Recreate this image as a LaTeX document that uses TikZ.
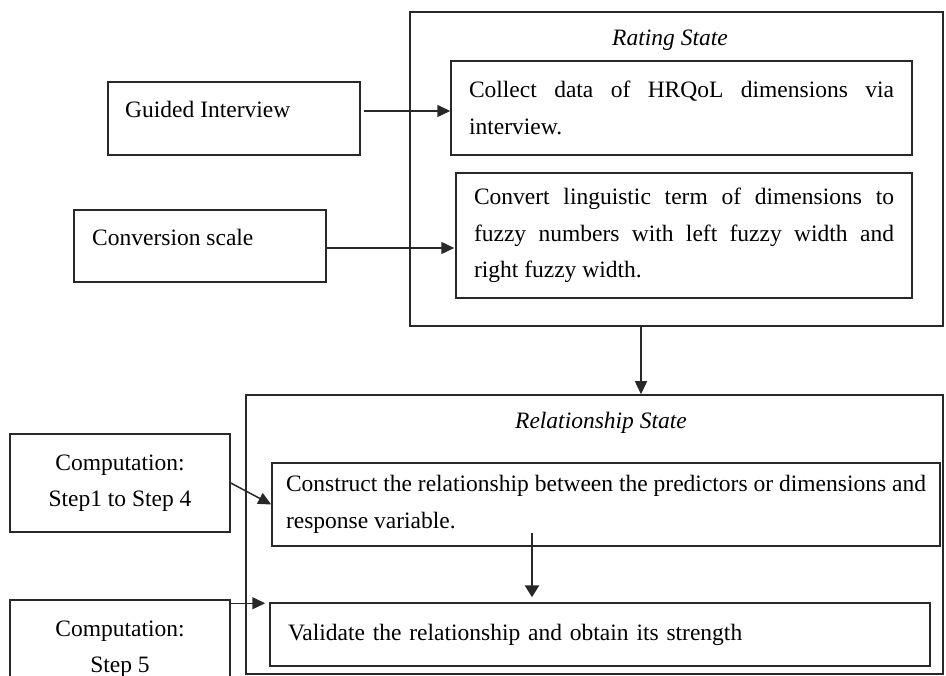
\documentclass[tikz,border=0pt]{standalone}
\usepackage{fontspec}
\setmainfont{Liberation Serif}
\usetikzlibrary{arrows.meta,calc}
\definecolor{linec}{RGB}{40,40,40}
\begin{document}
\begin{tikzpicture}[x=1pt,y=-1pt,
  box/.style={draw=linec, line width=1.5pt, inner sep=0pt},
  txt/.style={font=\fontsize{23.5}{36.5}\selectfont, inner sep=0pt},
  ttl/.style={font=\fontsize{23.5}{36.5}\selectfont\itshape, inner sep=0pt},
  arr/.style={draw=linec, line width=1.5pt, -{Triangle[length=13pt,width=12pt]}},
]
\clip (0,0) rectangle (946,676);
\fill[white] (0,0) rectangle (946,676);

% Rating state
\node[box, minimum width=533pt, minimum height=314pt] (rating) at (676.5,169) {};
\node[ttl] (ratingT) at (670,40) {Rating State};
\node[box, txt, minimum width=461pt, minimum height=94pt, text width=425pt, align=justify] (collect) at (681.5,108)
  {Collect data of HRQoL dimensions via\linebreak interview.};
\node[box, txt, minimum width=456pt, minimum height=125pt, text width=420pt, align=justify] (convert) at (684,235.5)
  {Convert linguistic term of dimensions to\linebreak fuzzy numbers with left fuzzy width and\linebreak right fuzzy width.};

% Inputs
\node[box, minimum width=252pt, minimum height=73pt] (guided) at (234,118.5) {};
\node[txt, anchor=west] (guidedT) at (125,109) {Guided Interview};
\node[box, minimum width=252pt, minimum height=72pt] (cscale) at (200,246) {};
\node[txt, anchor=west] (cscaleT) at (92,237) {Conversion scale};

\coordinate (a1) at ([yshift=-3pt]collect.west);
\draw[arr, shorten <=3pt] (guided.east |- a1) -- (a1);
\coordinate (a2) at ([yshift=-2pt]cscale.east);
\draw[arr, shorten >=1pt] (a2) -- (a2 -| convert.west);

% Relationship state
\node[box, minimum width=697pt, minimum height=279pt] (rel) at (594.5,534.5) {};
\node[ttl] (relT) at (601,423) {Relationship State};
\node[box, txt, minimum width=668pt, minimum height=83pt, text width=640pt, align=justify] (construct) at (606,504.5)
  {Construct the relationship between the predictors or dimensions and\linebreak response variable.};
\node[box, txt, minimum width=660pt, minimum height=63pt, text width=624pt, align=left] (validate) at (600,634.5)
  {Validate the relationship and obtain its strength};

\coordinate (m1) at (641,0);
\draw[arr] (rating.south -| m1) -- (rel.north -| m1);
\coordinate (m2) at (532,0);
\draw[draw=linec, line width=2.8pt, -{Triangle[length=12pt,width=14pt]}, shorten <=-14pt, shorten >=5pt]
  (construct.south -| m2) -- (validate.north -| m2);

% Computation boxes
\node[box, txt, minimum width=220pt, minimum height=98pt, align=center] (comp1) at (120,483) {Computation:\\Step1 to Step 4};
\node[box, txt, minimum width=220pt, minimum height=98pt, align=center] (comp5) at (120,649) {Computation:\\Step 5};

\draw[arr] (comp1.east) -- (construct.west);
\coordinate (c5) at ([yshift=-4pt]comp5.north east);
\draw[arr, shorten >=4pt] (c5) -- (c5 -| validate.west);
\end{tikzpicture}
\end{document}
